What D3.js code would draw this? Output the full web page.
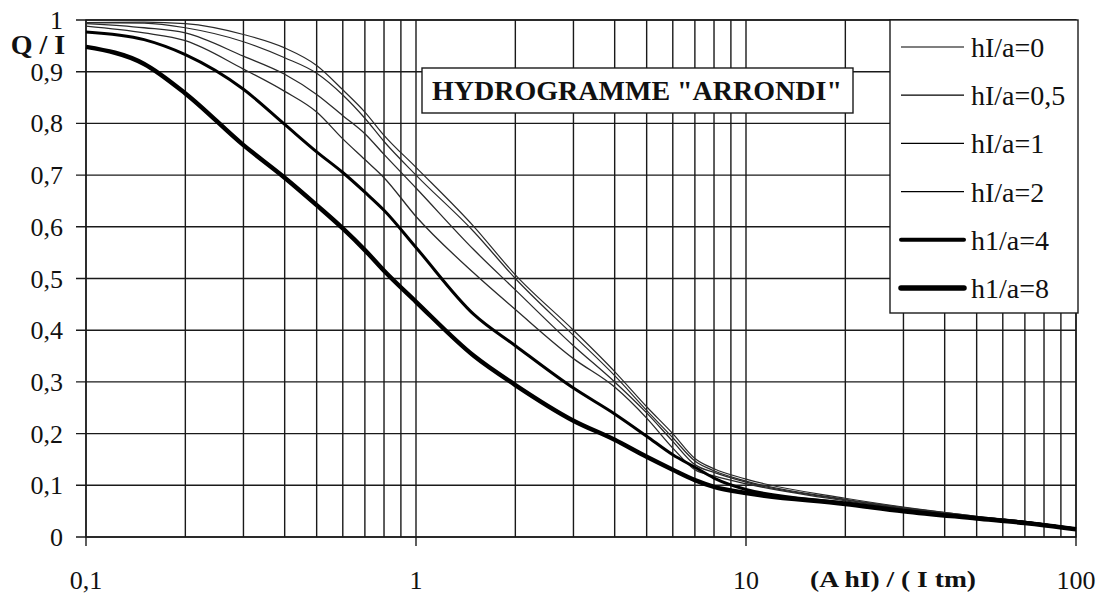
<!DOCTYPE html>
<html>
<head>
<meta charset="utf-8">
<script src="https://cdn.jsdelivr.net/npm/d3@7"></script>
<style>
  body { margin: 0; background: #fff; }
  svg { display: block; }
  text { font-family: "Liberation Serif", "DejaVu Serif", serif; fill: #111; }
</style>
</head>
<body>
<script>
// abscissa (log) shared by all curves
var xVals = [0.1, 0.15, 0.2, 0.3, 0.4, 0.5, 0.6, 0.7, 0.8, 1, 1.5, 2, 3, 4, 5, 6, 7, 8, 10, 20, 30, 50, 70, 100];

// Q / I for each hI/a
var q0   = [0.995, 0.996, 0.993, 0.972, 0.946, 0.912, 0.865, 0.822, 0.777, 0.715, 0.60, 0.507, 0.40, 0.32, 0.252, 0.20, 0.152, 0.132, 0.112, 0.075, 0.058, 0.040, 0.030, 0.017];
var q05  = [0.995, 0.994, 0.985, 0.958, 0.927, 0.897, 0.855, 0.81, 0.765, 0.70, 0.59, 0.50, 0.39, 0.312, 0.245, 0.192, 0.147, 0.128, 0.108, 0.073, 0.057, 0.040, 0.030, 0.017];
var q1   = [0.993, 0.985, 0.975, 0.93, 0.895, 0.856, 0.815, 0.78, 0.74, 0.675, 0.555, 0.478, 0.37, 0.30, 0.24, 0.185, 0.14, 0.125, 0.106, 0.072, 0.056, 0.039, 0.030, 0.017];
var q2   = [0.988, 0.975, 0.96, 0.905, 0.862, 0.822, 0.77, 0.73, 0.695, 0.62, 0.51, 0.44, 0.345, 0.29, 0.23, 0.172, 0.13, 0.118, 0.103, 0.070, 0.055, 0.039, 0.030, 0.016];
var q4   = [0.977, 0.962, 0.933, 0.866, 0.798, 0.745, 0.705, 0.667, 0.632, 0.56, 0.43, 0.37, 0.288, 0.238, 0.195, 0.159, 0.135, 0.114, 0.092, 0.066, 0.052, 0.037, 0.028, 0.015];
var q8   = [0.948, 0.915, 0.858, 0.758, 0.695, 0.642, 0.597, 0.555, 0.515, 0.455, 0.35, 0.294, 0.225, 0.188, 0.155, 0.13, 0.11, 0.097, 0.085, 0.064, 0.050, 0.036, 0.027, 0.015];

var seriesNames = ["hI/a=0", "hI/a=0,5", "hI/a=1", "hI/a=2", "h1/a=4", "h1/a=8"];
var seriesVals = [q0, q05, q1, q2, q4, q8];
var seriesWidth = [1.2, 1.2, 1.3, 1.3, 3, 4.5];
var legendWidth = [1.2, 1.2, 1.3, 1.3, 4, 5.5];

var xTickVals = [0.1, 1, 10, 100];
var xTickLabels = ["0,1", "1", "10", "100"];
var yTickVals = [0, 0.1, 0.2, 0.3, 0.4, 0.5, 0.6, 0.7, 0.8, 0.9, 1];
var yTickLabels = ["0", "0,1", "0,2", "0,3", "0,4", "0,5", "0,6", "0,7", "0,8", "0,9", "1"];

drawChart();

function drawChart() {
  var W = 1109, H = 594;
  var margin = {left: 86, right: 1076, top: 20, bottom: 537};
  var ink = "#1a1a1a";

  var svg = d3.select("body").append("svg")
    .attr("width", W).attr("height", H);

  var x = d3.scaleLog().domain([0.1, 100]).range([margin.left, margin.right]);
  var y = d3.scaleLinear().domain([0, 1]).range([margin.bottom, margin.top]);

  // vertical grid : every minor log value, major ones stick out below
  var grid = svg.append("g").attr("stroke", ink).attr("stroke-width", 1.4);
  grid.selectAll("line.v")
    .data(x.ticks())
    .enter().append("line")
    .attr("class", "v")
    .attr("x1", function(d){ return x(d); })
    .attr("x2", function(d){ return x(d); })
    .attr("y1", margin.top)
    .attr("y2", function(d){
      var major = xTickVals.some(function(t){ return Math.abs(t - d) < 1e-9; });
      return major ? margin.bottom + 9 : margin.bottom;
    });

  // horizontal grid, with ticks on the left
  grid.selectAll("line.h")
    .data(yTickVals)
    .enter().append("line")
    .attr("class", "h")
    .attr("x1", margin.left - 10)
    .attr("x2", margin.right)
    .attr("y1", function(d){ return y(d); })
    .attr("y2", function(d){ return y(d); });

  // frame
  svg.append("rect")
    .attr("x", margin.left).attr("y", margin.top)
    .attr("width", margin.right - margin.left).attr("height", margin.bottom - margin.top)
    .attr("fill", "none").attr("stroke", ink).attr("stroke-width", 1.4);

  // y tick labels
  svg.selectAll("text.ylab")
    .data(yTickVals)
    .enter().append("text")
    .attr("class", "ylab")
    .attr("x", 63)
    .attr("y", function(d){ return y(d) + 9; })
    .attr("text-anchor", "end")
    .style("font-size", "26px")
    .text(function(d, i){ return yTickLabels[i]; });

  // x tick labels
  svg.selectAll("text.xlab")
    .data(xTickVals)
    .enter().append("text")
    .attr("class", "xlab")
    .attr("x", function(d){ return x(d); })
    .attr("y", 589)
    .attr("text-anchor", "middle")
    .style("font-size", "26px")
    .text(function(d, i){ return xTickLabels[i]; });

  // axis titles
  svg.append("text")
    .attr("x", 38).attr("y", 54)
    .attr("text-anchor", "middle")
    .style("font-size", "28px").style("font-weight", "bold")
    .text("Q / I");

  svg.append("text")
    .attr("x", 893).attr("y", 587)
    .attr("text-anchor", "middle")
    .attr("textLength", 166).attr("lengthAdjust", "spacingAndGlyphs")
    .style("font-size", "24px").style("font-weight", "bold")
    .text("(A hI) / ( I tm)");

  // curves
  var line = d3.line()
    .x(function(d){ return x(d[0]); })
    .y(function(d){ return y(d[1]); })
    .curve(d3.curveMonotoneX);

  svg.selectAll("path.curve")
    .data(seriesVals)
    .enter().append("path")
    .attr("class", "curve")
    .attr("d", function(vals){ return line(xVals.map(function(v, i){ return [v, vals[i]]; })); })
    .attr("fill", "none")
    .attr("stroke", function(d, i){ return i < 4 ? "#2a2a2a" : "#000"; })
    .attr("stroke-width", function(d, i){ return seriesWidth[i]; })
    .attr("stroke-linejoin", "round");

  // title box
  svg.append("rect")
    .attr("x", 422).attr("y", 68).attr("width", 431).attr("height", 45)
    .attr("fill", "#fff").attr("stroke", ink).attr("stroke-width", 1.4);
  svg.append("text")
    .attr("x", 637).attr("y", 100)
    .attr("text-anchor", "middle")
    .attr("textLength", 410).attr("lengthAdjust", "spacingAndGlyphs")
    .style("font-size", "28px").style("font-weight", "bold")
    .text("HYDROGRAMME \"ARRONDI\"");

  // legend
  var lg = svg.append("g");
  lg.append("rect")
    .attr("x", 890).attr("y", 20).attr("width", 188).attr("height", 293)
    .attr("fill", "#fff").attr("stroke", ink).attr("stroke-width", 1.4);

  var rowY = d3.scalePoint().domain(d3.range(seriesNames.length)).range([47, 288]);

  lg.selectAll("line.key")
    .data(seriesNames)
    .enter().append("line")
    .attr("class", "key")
    .attr("x1", 901).attr("x2", 964)
    .attr("y1", function(d, i){ return rowY(i); })
    .attr("y2", function(d, i){ return rowY(i); })
    .attr("stroke", "#000")
    .attr("stroke-linecap", function(d, i){ return i < 4 ? "butt" : "round"; })
    .attr("stroke-width", function(d, i){ return legendWidth[i]; });

  lg.selectAll("text.key")
    .data(seriesNames)
    .enter().append("text")
    .attr("class", "key")
    .attr("x", 971)
    .attr("y", function(d, i){ return rowY(i) + 10; })
    .style("font-size", "28px")
    .text(function(d){ return d; });
}
</script>
</body>
</html>
